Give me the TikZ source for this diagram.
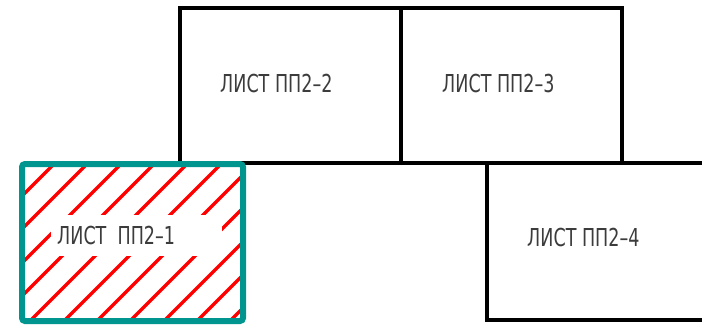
\documentclass[tikz,border=0pt]{standalone}
\usepackage{fontspec}
\setmainfont{DejaVu Sans}[FakeStretch=0.71]
\definecolor{sheetteal}{RGB}{0,150,143}
\definecolor{labelgray}{RGB}{60,60,60}

\begin{document}
\begin{tikzpicture}[x=1pt,y=-1pt,
    sheet/.style={line width=4pt},
    hatch/.style={red, line width=3.2pt, line cap=round},
    label/.style={font=\fontsize{24.7}{26}\selectfont, text=labelgray, inner sep=0pt, anchor=west}]
    \useasboundingbox (0,0) rectangle (702,327);

    % top row
    \draw[sheet] (180,163) -- (180,8) -- (622,8) -- (622,163);
    \draw[sheet] (401,8) -- (401,163);
    \draw[sheet] (180,163) -- (702,163);
    \node[label] (pp22) at (220,84) {ЛИСТ ПП2–2};
    \node[label] (pp23) at (442,84) {ЛИСТ ПП2–3};

    % bottom right
    \draw[sheet] (487,163) -- (487,320) -- (702,320);
    \node[label] (pp24) at (527,238) {ЛИСТ ПП2–4};

    % hatched sheet
    \begin{scope}
        \clip (22,164) rectangle (243,321);
        \foreach \c in {185,218,251,285,318,351,385,418,451,485,518,551}
            \draw[hatch] ({\c-330},330) -- ({\c-150},150);
    \end{scope}
    \fill[white] (51,215) rectangle (222,256);
    \node[label] (pp21) at (57,236) {ЛИСТ\ \ ПП2–1};
    \draw[sheetteal, line width=6pt, rounded corners=3pt] (22,164) rectangle (243,321);
\end{tikzpicture}
\end{document}
